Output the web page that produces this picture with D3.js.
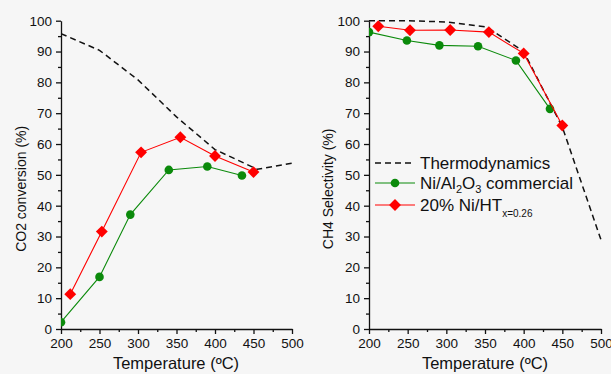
<!DOCTYPE html>
<html>
<head>
<meta charset="utf-8">
<script src="https://cdnjs.cloudflare.com/ajax/libs/d3/7.8.5/d3.min.js"></script>
<style>
  body { margin: 0; background: #f6f6f6; }
  svg { display: block; font-family: "Liberation Sans", Arial, sans-serif; }
</style>
</head>
<body>
<script>
// Left panel: CO2 conversion (%)
const convThermoT = [200, 250, 300, 350, 400, 455, 500];
const convThermoV = [95.8, 90.4, 80.8, 68.8, 58.2, 51.8, 53.8];
const convNiAlT = [200, 250, 290, 340, 390, 435];
const convNiAlV = [2.2, 16.9, 37.1, 51.6, 52.7, 49.8];
const convNiHTT = [212, 253, 304, 355, 400, 450];
const convNiHTV = [11.3, 31.6, 57.3, 62.2, 56.1, 50.9];

// Right panel: CH4 selectivity (%)
const selThermoT = [200, 250, 300, 352, 400, 450, 500];
const selThermoV = [100, 100, 99.6, 98.0, 90.0, 65.5, 28.9];
const selNiAlT = [200, 249, 291, 341, 390, 434];
const selNiAlV = [96.3, 93.6, 92.0, 91.7, 87.1, 71.4];
const selNiHTT = [212, 253, 305, 355, 400, 450];
const selNiHTV = [98.2, 96.9, 97.0, 96.3, 89.4, 66.0];

const xMajor = [200, 250, 300, 350, 400, 450, 500];
const xMinor = [225, 275, 325, 375, 425, 475];
const yMajor = [0, 10, 20, 30, 40, 50, 60, 70, 80, 90, 100];
const yMinor = [5, 15, 25, 35, 45, 55, 65, 75, 85, 95];

const width = 611, height = 374;
const svg = d3.select('body').append('svg')
  .attr('width', width).attr('height', height);

svg.append('rect').attr('width', width).attr('height', height).attr('fill', '#f6f6f6');

const green = '#0b8a0b', red = '#ff0000';

const panels = [
  { x0: 61, x1: 292, title: 'CO2 conversion (%)', titleX: 26, xTitleX: 176,
    thermo: [convThermoT, convThermoV], nial: [convNiAlT, convNiAlV], niht: [convNiHTT, convNiHTV] },
  { x0: 369, x1: 601, title: 'CH4 Selectivity (%)', titleX: 333, xTitleX: 485,
    thermo: [selThermoT, selThermoV], nial: [selNiAlT, selNiAlV], niht: [selNiHTT, selNiHTV] }
];

const zip = (a, b) => a.map((t, i) => [t, b[i]]);

panels.forEach((p, k) => {
  const x = d3.scaleLinear().domain([200, 500]).range([p.x0, p.x1]);
  const y = d3.scaleLinear().domain([0, 100]).range([329, 20.7]);
  const g = svg.append('g');

  // Axes
  g.append('g').attr('transform', `translate(${p.x0},0)`)
    .call(d3.axisLeft(y).tickValues(yMajor).tickSize(5).tickPadding(4).tickSizeOuter(0));
  g.append('g').attr('transform', `translate(${p.x0},0)`)
    .call(d3.axisLeft(y).tickValues(yMinor).tickSize(3).tickFormat(''))
    .select('.domain').remove();
  g.append('g').attr('transform', `translate(0,${y(0)})`)
    .call(d3.axisBottom(x).tickValues(xMajor).tickSize(5).tickPadding(4).tickSizeOuter(0));
  g.append('g').attr('transform', `translate(0,${y(0)})`)
    .call(d3.axisBottom(x).tickValues(xMinor).tickSize(3).tickFormat(''))
    .select('.domain').remove();
  g.selectAll('.tick text').attr('font-size', '13.5px').attr('fill', '#111')
    .attr('font-family', '"Liberation Sans", Arial, sans-serif');
  g.selectAll('.domain, .tick line').attr('stroke', '#111').attr('stroke-width', 1.3);

  // Axis titles
  g.append('text')
    .attr('transform', `translate(${p.titleX},${y(50) + 14}) rotate(-90)`)
    .attr('text-anchor', 'middle').attr('font-size', '14px').attr('fill', '#111')
    .text(p.title);
  g.append('text')
    .attr('x', p.xTitleX).attr('y', 369)
    .attr('text-anchor', 'middle').attr('font-size', '16.5px').attr('fill', '#111')
    .text('Temperature (ºC)');

  // Clip
  const clipId = 'clip' + k;
  g.append('clipPath').attr('id', clipId).append('rect')
    .attr('x', p.x0).attr('y', 0).attr('width', p.x1 - p.x0 + 4).attr('height', y(0) + 2);
  const plot = g.append('g').attr('clip-path', `url(#${clipId})`);

  const line = d3.line().x(d => x(d[0])).y(d => y(d[1]));

  plot.append('path').datum(zip(...p.thermo)).attr('d', line)
    .attr('fill', 'none').attr('stroke', '#111').attr('stroke-width', 1.5)
    .attr('stroke-dasharray', '6,4');

  plot.append('path').datum(zip(...p.nial)).attr('d', line)
    .attr('fill', 'none').attr('stroke', green).attr('stroke-width', 1.1);
  plot.selectAll('circle.nial').data(zip(...p.nial)).enter().append('circle')
    .attr('cx', d => x(d[0])).attr('cy', d => y(d[1])).attr('r', 4.3).attr('fill', green);

  plot.append('path').datum(zip(...p.niht)).attr('d', line)
    .attr('fill', 'none').attr('stroke', red).attr('stroke-width', 1.1);
  plot.selectAll('path.niht').data(zip(...p.niht)).enter().append('path')
    .attr('class', 'niht')
    .attr('d', d3.symbol(d3.symbolDiamond2, 90))
    .attr('transform', d => `translate(${x(d[0])},${y(d[1])})`)
    .attr('fill', red);
});

// Legend (right panel)
const leg = svg.append('g').attr('font-size', '17px').attr('fill', '#111');
leg.append('line').attr('x1', 375).attr('x2', 415).attr('y1', 163).attr('y2', 163)
  .attr('stroke', '#111').attr('stroke-width', 1.5).attr('stroke-dasharray', '6,4');
leg.append('text').attr('x', 420).attr('y', 168.5).text('Thermodynamics');

leg.append('line').attr('x1', 375).attr('x2', 415).attr('y1', 183).attr('y2', 183)
  .attr('stroke', green).attr('stroke-width', 1.1);
leg.append('circle').attr('cx', 395).attr('cy', 183).attr('r', 4.3).attr('fill', green);
const t2 = leg.append('text').attr('x', 420).attr('y', 189);
t2.append('tspan').text('Ni/Al');
t2.append('tspan').attr('font-size', '11px').attr('dy', 4).text('2');
t2.append('tspan').attr('dy', -4).text('O');
t2.append('tspan').attr('font-size', '11px').attr('dy', 4).text('3');
t2.append('tspan').attr('dy', -4).text(' commercial');

leg.append('line').attr('x1', 375).attr('x2', 415).attr('y1', 205).attr('y2', 205)
  .attr('stroke', red).attr('stroke-width', 1.1);
leg.append('path').attr('d', d3.symbol(d3.symbolDiamond2, 90))
  .attr('transform', 'translate(395,205)').attr('fill', red);
const t3 = leg.append('text').attr('x', 420).attr('y', 211);
t3.append('tspan').text('20% Ni/HT');
t3.append('tspan').attr('font-size', '10px').attr('dy', 6).text('x=0.26');
</script>
</body>
</html>
